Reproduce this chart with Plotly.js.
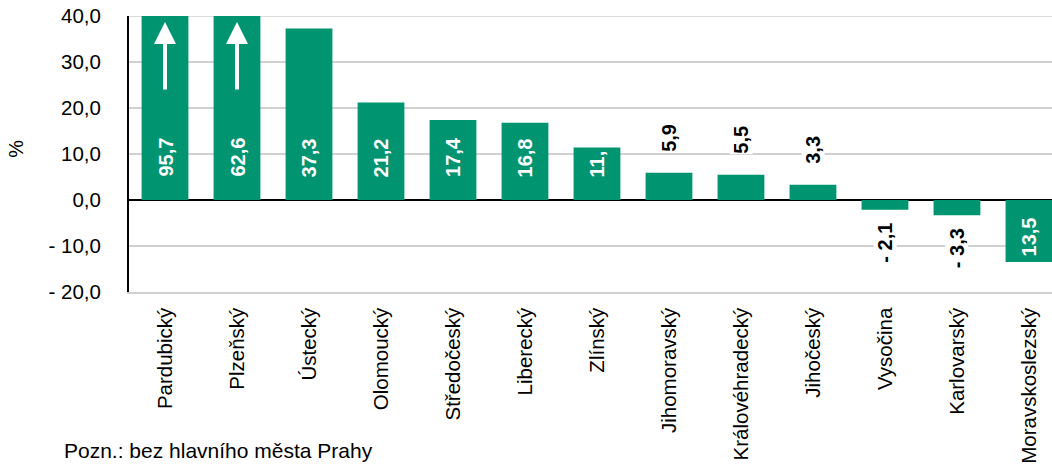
<!DOCTYPE html>
<html>
<head>
<meta charset="utf-8">
<script src="https://cdn.plot.ly/plotly-3.0.1.min.js"></script>
<style>
html,body{margin:0;padding:0;background:#fff;overflow:hidden;}
#chart{width:1052px;height:465px;}
</style>
</head>
<body>
<div id="chart"></div>
<script>
// ---- data ----
var regions = ["Pardubický","Plzeňský","Ústecký","Olomoucký","Středočeský","Liberecký","Zlínský","Jihomoravský","Královéhradecký","Jihočeský","Vysočina","Karlovarský","Moravskoslezský"];
var values = [95.7, 62.6, 37.3, 21.2, 17.4, 16.8, 11.4, 5.9, 5.5, 3.3, -2.1, -3.3, -13.5];
var valueLabels = ["95,7","62,6","37,3","21,2","17,4","16,8","11,","5,9","5,5","3,3","- 2,1","- 3,3","13,5"];
var labelInside = [true,true,true,true,true,true,true,false,false,false,false,false,true];
var yTickVals = [-20,-10,0,10,20,30,40];
var yTickText = ["- 20,0","- 10,0","0,0","10,0","20,0","30,0","40,0"];
var yMin = -20, yMax = 40;

var green = "#009470";
var grid = "#d0d0d0";
var font = "Liberation Sans, Arial, sans-serif";

var annotations = [];
for (var i = 0; i < regions.length; i++) {
  var v = values[i];
  var a = {
    x: regions[i], xref: "x", yref: "y",
    text: "<b>" + valueLabels[i] + "</b>",
    textangle: -90, showarrow: false,
    font: {family: font, size: 20, color: labelInside[i] ? "#ffffff" : "#000000"},
    xanchor: "center", borderpad: 0
  };
  if (labelInside[i]) {
    a.y = 0;
    if (v >= 0) { a.yanchor = "bottom"; a.yshift = 22; }
    else { a.yanchor = "top"; a.yshift = -16; }
  } else {
    a.y = v;
    a.bgcolor = "#ffffff";
    if (v >= 0) { a.yanchor = "bottom"; a.yshift = 20; }
    else { a.yanchor = "top"; a.yshift = -12; }
  }
  annotations.push(a);
  // arrows for values exceeding the axis
  if (v > yMax) {
    annotations.push({
      x: regions[i], y: yMax - 1.3, xref: "x", yref: "y",
      ax: regions[i], ay: yMax - 16.3, axref: "x", ayref: "y",
      showarrow: true, text: "", arrowhead: 2, arrowsize: 1.1,
      arrowwidth: 4, arrowcolor: "#ffffff"
    });
  }
}
annotations.push({
  xref: "paper", yref: "paper", x: -0.122, y: 0.52,
  text: "%", textangle: -90, showarrow: false,
  font: {family: font, size: 20, color: "#000"},
  xanchor: "center", yanchor: "middle"
});
annotations.push({
  xref: "paper", yref: "paper", x: -0.073, y: -0.575,
  text: "Pozn.: bez hlavního města Prahy", showarrow: false,
  font: {family: font, size: 21, color: "#000"},
  xanchor: "left", yanchor: "middle"
});

var trace = {
  type: "bar",
  x: regions,
  y: values,
  marker: {color: green, line: {width: 0}},
  width: 0.65,
  hoverinfo: "x+y"
};

var layout = {
  width: 1052, height: 465,
  margin: {l: 129, r: 0, t: 16, b: 173},
  paper_bgcolor: "#ffffff", plot_bgcolor: "#ffffff",
  showlegend: false,
  font: {family: font, size: 20, color: "#000"},
  xaxis: {
    range: [-0.5, 12.32], automargin: false,
    tickangle: -90, tickfont: {family: font, size: 20.5, color: "#000"},
    showgrid: false, zeroline: false,
    showline: true, linecolor: grid, linewidth: 1.5,
    ticks: "", ticklabelstandoff: 6, fixedrange: true
  },
  yaxis: {
    range: [yMin, yMax], automargin: false,
    tickvals: yTickVals, ticktext: yTickText,
    tickfont: {family: font, size: 20.5, color: "#000"},
    showgrid: true, gridcolor: grid, gridwidth: 1.5,
    zeroline: true, zerolinecolor: "#000", zerolinewidth: 2,
    showline: true, linecolor: "#000", linewidth: 2,
    ticks: "", ticklabelstandoff: 22, fixedrange: true
  },
  shapes: [{
    type: "line", layer: "below", xref: "paper", yref: "y",
    x0: 0, x1: 1, y0: yMax, y1: yMax,
    line: {color: grid, width: 1.5}
  }],
  annotations: annotations
};

Plotly.newPlot("chart", [trace], layout, {displayModeBar: false, staticPlot: true});
</script>
</body>
</html>
